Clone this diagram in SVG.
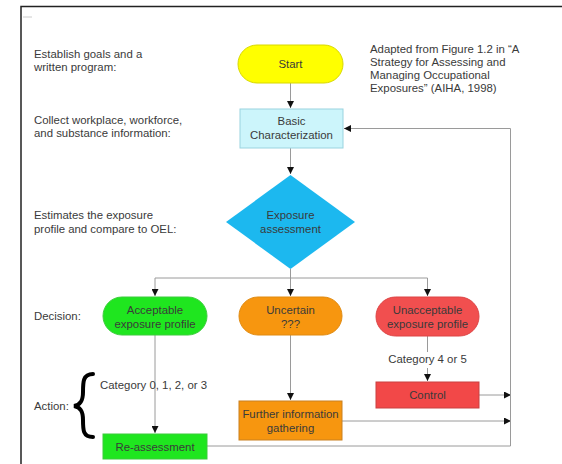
<svg xmlns="http://www.w3.org/2000/svg" width="562" height="464" viewBox="0 0 562 464">
  <style>
    text { font-family: "Liberation Sans", Arial, sans-serif; font-size: 11.4px; fill: #3a3a3a; }
    .c { text-anchor: middle; }
    .edge { fill: none; stroke: #9a9a9a; stroke-width: 1; }
    .frame { stroke: #222; stroke-width: 1.5; fill: none; }
  </style>
  <defs>
    <marker id="arrow" viewBox="0 0 10 10" refX="10" refY="5" markerWidth="7" markerHeight="7" markerUnits="userSpaceOnUse" orient="auto">
      <path d="M0,0 L10,5 L0,10 z" fill="#111"/>
    </marker>
  </defs>

  <rect width="562" height="464" fill="#fff"/>

  <!-- page frame -->
  <path class="frame" d="M21,464 V6.5 H562"/>
  <path d="M23,17 H32" stroke="#ccc" stroke-width="1"/>

  <!-- step descriptions on the left -->
  <g id="notes">
    <text x="34" y="58">Establish goals and a</text>
    <text x="34" y="71">written program:</text>
    <text x="34" y="124">Collect workplace, workforce,</text>
    <text x="34" y="137">and substance information:</text>
    <text x="34" y="219">Estimates the exposure</text>
    <text x="34" y="233">profile and compare to OEL:</text>
    <text x="34" y="320">Decision:</text>
    <text x="34" y="410">Action:</text>
    <path d="M93,374 C83,374 83,382 83,392 C83,400 81,405 74,406 C81,407 83,412 83,420 C83,430 83,437 93,437" fill="none" stroke="#000" stroke-width="4" stroke-linecap="round"/>
  </g>

  <g id="source">
    <text x="370" y="53">Adapted from Figure 1.2 in “A</text>
    <text x="370" y="66">Strategy for Assessing and</text>
    <text x="370" y="79">Managing Occupational</text>
    <text x="370" y="92">Exposures” (AIHA, 1998)</text>
  </g>

  <!-- connectors -->
  <g id="connectors">
    <path class="edge" d="M290.5,83 V108" marker-end="url(#arrow)"/>
    <path class="edge" d="M290.5,148 V174" marker-end="url(#arrow)"/>
    <path class="edge" d="M290.5,269 V278"/>
    <path class="edge" d="M155,278 H427.5"/>
    <path class="edge" d="M155,278 V296" marker-end="url(#arrow)"/>
    <path class="edge" d="M290.5,278 V296" marker-end="url(#arrow)"/>
    <path class="edge" d="M427.5,278 V296" marker-end="url(#arrow)"/>
    <path class="edge" d="M155,335 V433" marker-end="url(#arrow)"/>
    <path class="edge" d="M290.5,335 V400" marker-end="url(#arrow)"/>
    <path class="edge" d="M427.5,336 V352"/>
    <path class="edge" d="M427.5,368 V381" marker-end="url(#arrow)"/>
    <path class="edge" d="M479,395 H511" marker-end="url(#arrow)"/>
    <path class="edge" d="M342,421 H511" marker-end="url(#arrow)"/>
    <path class="edge" d="M207,446 H510.5 V128.5 H344" marker-end="url(#arrow)"/>
    <text class="c" x="427.5" y="363">Category 4 or 5</text>
    <text x="100" y="389">Category 0, 1, 2, or 3</text>
  </g>

  <!-- nodes -->
  <g id="start">
    <rect x="238" y="45" width="105" height="38" rx="19" fill="#ffff00" stroke="#d8d800"/>
    <text class="c" x="290.5" y="68">Start</text>
  </g>
  <g id="basic-characterization">
    <rect x="240" y="109" width="103" height="39" fill="#ccf5fb" stroke="#9ad3df"/>
    <text class="c" x="291.5" y="125">Basic</text>
    <text class="c" x="291.5" y="138.5">Characterization</text>
  </g>
  <g id="exposure-assessment">
    <polygon points="290.5,175 355,222 290.5,269 226,222" fill="#1cb8ef"/>
    <text class="c" x="290.5" y="219">Exposure</text>
    <text class="c" x="290.5" y="233">assessment</text>
  </g>
  <g id="acceptable">
    <rect x="103" y="297" width="104" height="38" rx="19" fill="#1fe61f" stroke="#3ccc3c"/>
    <text class="c" x="155" y="314">Acceptable</text>
    <text class="c" x="155" y="327.5">exposure profile</text>
  </g>
  <g id="uncertain">
    <rect x="239" y="297" width="103" height="38" rx="19" fill="#f7960f" stroke="#e08a10"/>
    <text class="c" x="290.5" y="314">Uncertain</text>
    <text class="c" x="290.5" y="327.5">???</text>
  </g>
  <g id="unacceptable">
    <rect x="376" y="297" width="103" height="39" rx="19.5" fill="#f14f4f" stroke="#d44"/>
    <text class="c" x="427.5" y="314">Unacceptable</text>
    <text class="c" x="427.5" y="327.5">exposure profile</text>
  </g>
  <g id="control">
    <rect x="376" y="382" width="103" height="26" fill="#f24848" stroke="#c94040"/>
    <text class="c" x="427.5" y="399">Control</text>
  </g>
  <g id="further-information">
    <rect x="239" y="401" width="103" height="39" fill="#f7960f" stroke="#c98020"/>
    <text class="c" x="290.5" y="418">Further information</text>
    <text class="c" x="290.5" y="431.5">gathering</text>
  </g>
  <g id="re-assessment">
    <rect x="103" y="434" width="104" height="25" fill="#1fe61f" stroke="#3ccc3c"/>
    <text class="c" x="155" y="450.5">Re-assessment</text>
  </g>
</svg>
